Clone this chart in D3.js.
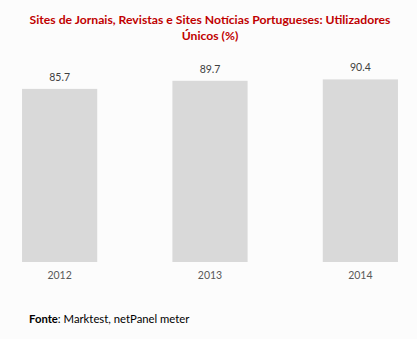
<!DOCTYPE html>
<html>
<head>
<meta charset="utf-8">
<script src="https://cdn.jsdelivr.net/npm/d3@7"></script>
<style>
  html, body { margin: 0; padding: 0; background: #fcfcfc; }
  svg { display: block; }
</style>
</head>
<body>
<svg id="chart" width="417" height="339"></svg>
<script>
const categories = ["2012", "2013", "2014"];
const values = [85.7, 89.7, 90.4];
const titleLines = ["Sites de Jornais, Revistas e Sites Notícias Portugueses: Utilizadores", "Únicos (%)"];

const svg = d3.select("#chart");
svg.append("rect").attr("width", 417).attr("height", 339).attr("fill", "#fcfcfc");

const x = d3.scaleBand().domain(categories).range([7, 413]).paddingInner(0.5).paddingOuter(0.1);
const y = d3.scaleLinear().domain([0, 100]).range([262, 60]);

const font = "Lato, 'Open Sans', sans-serif";

svg.selectAll("text.title").data(titleLines).enter().append("text")
  .attr("class", "title")
  .attr("x", 210).attr("y", (d, i) => 24 + i * 16)
  .attr("text-anchor", "middle")
  .attr("font-family", font).attr("font-weight", "bold").attr("font-size", 12.2)
  .attr("fill", "#c00000")
  .text(d => d);

svg.selectAll("rect.bar").data(values).enter().append("rect")
  .attr("class", "bar")
  .attr("x", (d, i) => x(categories[i]))
  .attr("width", x.bandwidth())
  .attr("y", d => y(d))
  .attr("height", d => y(0) - y(d))
  .attr("fill", "#d9d9d9");

svg.selectAll("text.val").data(values).enter().append("text")
  .attr("class", "val")
  .attr("x", (d, i) => x(categories[i]) + x.bandwidth() / 2)
  .attr("y", d => y(d) - 8)
  .attr("text-anchor", "middle")
  .attr("font-family", font).attr("font-size", 10.5)
  .attr("fill", "#404040")
  .text(d => d.toFixed(1));

const xAxis = d3.axisBottom(x).tickSize(0).tickPadding(0);
const gx = svg.append("g").attr("transform", "translate(0,262)").call(xAxis);
gx.select(".domain").remove();
gx.selectAll("text")
  .attr("dy", null).attr("y", 17)
  .attr("font-family", font).attr("font-size", 10.5)
  .attr("fill", "#595959");

const src = svg.append("text").attr("x", 29).attr("y", 323)
  .attr("font-family", font).attr("font-size", 11.3).attr("fill", "#000");
src.append("tspan").attr("font-weight", "bold").text("Fonte");
src.append("tspan").text(": Marktest, netPanel meter");
</script>
</body>
</html>
